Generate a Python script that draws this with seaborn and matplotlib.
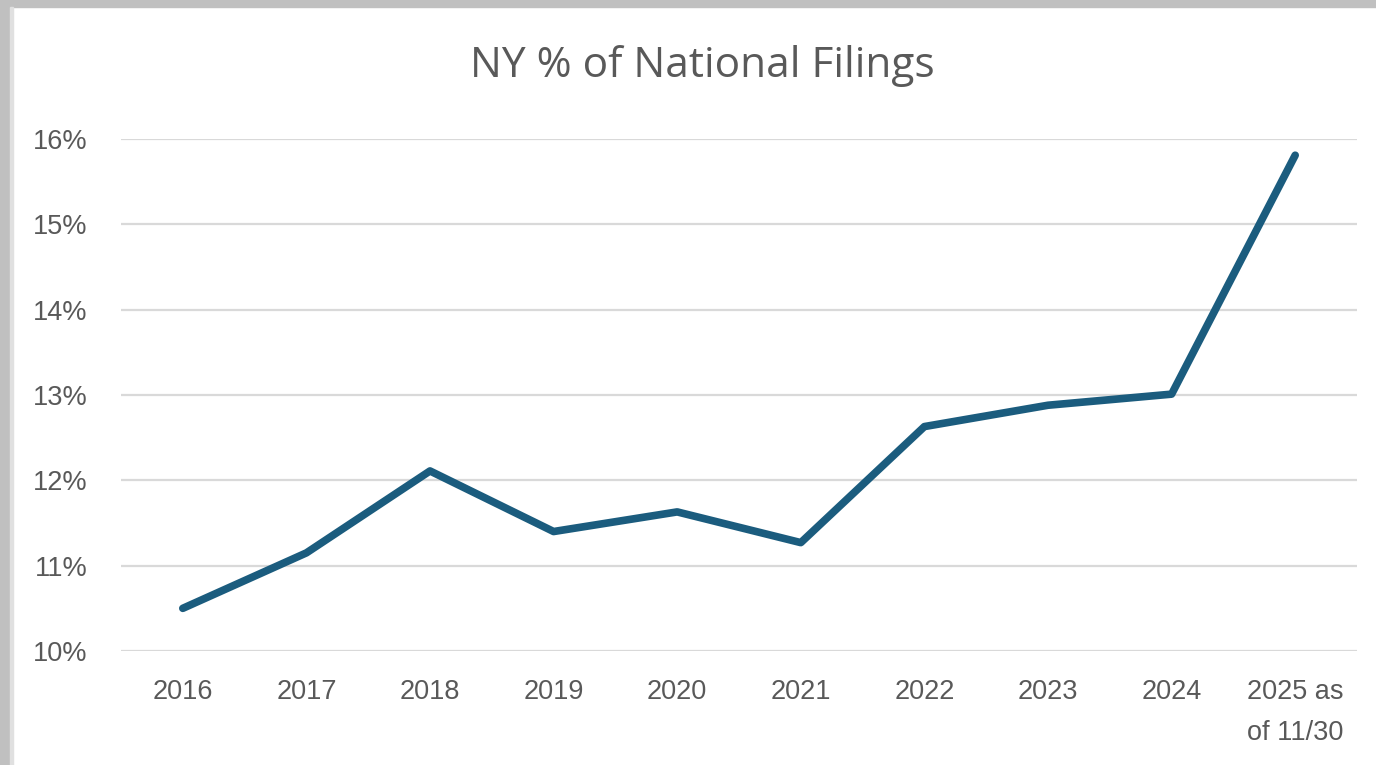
import matplotlib
matplotlib.use("Agg")
import pandas as pd
import seaborn as sns
from matplotlib import pyplot as plt
from matplotlib.patches import Rectangle
from matplotlib.ticker import FuncFormatter

years = ["2016", "2017", "2018", "2019", "2020", "2021", "2022", "2023", "2024", "2025 as\nof 11/30"]
ny_share = [10.50, 11.15, 12.11, 11.40, 11.63, 11.27, 12.63, 12.88, 13.01, 15.81]

TEXT = "#595959"
LINE = "#1b5c7e"
GRID = "#d9d9d9"


def main():
    sns.set_style("white")
    plt.rcParams["font.family"] = ["Liberation Sans", "DejaVu Sans"]

    df = pd.DataFrame({"year": years, "share": ny_share})
    df["pos"] = range(len(df))

    W, H = 1376, 765
    fig = plt.figure(figsize=(W / 100, H / 100), dpi=100)
    ax = fig.add_axes([121 / W, 1 - 651 / H, (1357 - 121) / W, (651 - 139) / H])

    sns.lineplot(data=df, x="pos", y="share", ax=ax, color=LINE, linewidth=5.5,
                 solid_capstyle="round", solid_joinstyle="round", clip_on=False)

    ax.set_xlim(-0.5, len(years) - 0.5)
    ax.set_ylim(10, 16)
    ax.set_xticks(df["pos"])
    ax.set_xticklabels(years, linespacing=1.75)
    ax.set_yticks(range(10, 17))
    ax.yaxis.set_major_formatter(FuncFormatter(lambda v, _: f"{v:.0f}%"))
    ax.tick_params(axis="both", length=0, labelsize=19.5, colors=TEXT)
    ax.tick_params(axis="y", pad=24)
    ax.tick_params(axis="x", pad=20)
    ax.grid(axis="y", color=GRID, linewidth=1.6)
    ax.set_axisbelow(True)
    for s in ax.spines.values():
        s.set_visible(False)
    ax.set_xlabel("")
    ax.set_ylabel("")

    fig.text(702 / W, 1 - 66 / H, "NY % of National Filings", ha="center", va="center",
             fontsize=30.5, color=TEXT, family=["Open Sans", "DejaVu Sans"])

    # window frame round the chart
    fig.patches.append(Rectangle((0, 1 - 7 / H), 1, 7 / H, transform=fig.transFigure,
                                 color="#c0c0c0", zorder=0))
    fig.patches.append(Rectangle((0, 0), 10 / W, 1, transform=fig.transFigure,
                                 color="#c0c0c0", zorder=0))
    fig.patches.append(Rectangle((10 / W, 0), 3 / W, 1 - 7 / H, transform=fig.transFigure,
                                 color="#e0e0e0", zorder=0))

    plt.savefig("out.png", dpi=100)
    plt.close()


if __name__ == "__main__":
    main()
